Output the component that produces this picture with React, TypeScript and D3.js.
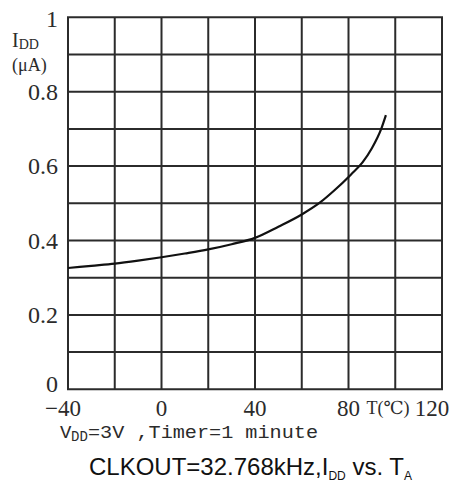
import React, { useEffect, useRef } from "react";
import * as d3 from "d3";

// readings
const temps = [-40, -30, -20, -10, 0, 10, 20, 30, 40, 50, 60, 68, 74, 81, 86, 90, 94, 96];
const idd = [0.326, 0.332, 0.338, 0.346, 0.355, 0.365, 0.376, 0.39, 0.407, 0.437, 0.47, 0.503, 0.535, 0.577, 0.61, 0.648, 0.7, 0.737];

const xGrid = [-40, -20, 0, 20, 40, 60, 80, 100, 120];
const yGrid = [0, 0.1, 0.2, 0.3, 0.4, 0.5, 0.6, 0.7, 0.8, 0.9, 1];
const xTicks = [-40, 0, 40, 80, 120];
const yTicks = [0, 0.2, 0.4, 0.6, 0.8, 1];

const INK = "#2b2b2b";
const SERIF = "'Liberation Serif', 'DejaVu Serif', serif";
const MONO = "'Liberation Mono', 'DejaVu Sans Mono', monospace";
const SANS = "'Liberation Sans', Arial, sans-serif";

const App = () => {
  const ref = useRef(null);

  useEffect(() => {
    const svg = d3.select(ref.current);
    svg.html("");

    const x = d3.scaleLinear().domain([-40, 120]).range([68, 442]);
    const y = d3.scaleLinear().domain([0, 1]).range([389.3, 17.3]);

    const grid = svg.append("g").attr("stroke", INK).attr("stroke-width", 2);
    grid
      .selectAll("line.v")
      .data(xGrid)
      .enter()
      .append("line")
      .attr("x1", d => x(d))
      .attr("x2", d => x(d))
      .attr("y1", y(0))
      .attr("y2", y(1));
    grid
      .selectAll("line.h")
      .data(yGrid)
      .enter()
      .append("line")
      .attr("x1", x(-40) - 1)
      .attr("x2", x(120) + 1)
      .attr("y1", d => y(d))
      .attr("y2", d => y(d));

    // curve
    const pts = temps.map((t, i) => [t, idd[i]]);
    const line = d3
      .line()
      .x(d => x(d[0]))
      .y(d => y(d[1]))
      .curve(d3.curveMonotoneX);
    svg
      .append("path")
      .attr("d", line(pts))
      .attr("fill", "none")
      .attr("stroke", "#111")
      .attr("stroke-width", 2.2);

    // y tick labels
    svg
      .append("g")
      .selectAll("text")
      .data(yTicks)
      .enter()
      .append("text")
      .attr("x", 58)
      .attr("y", d => y(d) + (d === 1 ? 10 : d === 0 ? 3 : 8))
      .attr("text-anchor", "end")
      .attr("font-family", SERIF)
      .attr("font-size", 24)
      .attr("fill", INK)
      .text(d => (d === 0 || d === 1 ? String(d) : d.toFixed(1)));

    // x tick labels
    svg
      .append("g")
      .selectAll("text")
      .data(xTicks)
      .enter()
      .append("text")
      .attr("x", d => (d === -40 ? x(d) - 5 : d === 120 ? x(d) - 10 : x(d)))
      .attr("y", 416)
      .attr("text-anchor", "middle")
      .attr("font-family", SERIF)
      .attr("font-size", 23)
      .attr("fill", INK)
      .text(d => (d < 0 ? "\u2212" + Math.abs(d) : String(d)));

    svg
      .append("text")
      .attr("x", 388)
      .attr("y", 414)
      .attr("text-anchor", "middle")
      .attr("font-family", SERIF)
      .attr("font-size", 18)
      .attr("fill", INK)
      .text("T(\u2103)");

    // y axis name
    const yl = svg
      .append("text")
      .attr("x", 12)
      .attr("y", 47)
      .attr("font-family", SERIF)
      .attr("font-size", 20)
      .attr("fill", INK);
    yl.append("tspan").text("I");
    yl.append("tspan").attr("font-size", 14).attr("dy", 2).text("DD");
    svg
      .append("text")
      .attr("x", 12)
      .attr("y", 71)
      .attr("font-family", SERIF)
      .attr("font-size", 18)
      .attr("fill", INK)
      .text("(\u03bcA)");

    // condition line
    svg
      .append("text")
      .attr("x", 60)
      .attr("y", 438)
      .attr("font-family", MONO)
      .attr("font-size", 19)
      .attr("fill", INK)
      .text("V");
    svg
      .append("text")
      .attr("x", 71)
      .attr("y", 441)
      .attr("font-family", MONO)
      .attr("font-size", 14)
      .attr("fill", INK)
      .text("DD");
    svg
      .append("text")
      .attr("x", 88)
      .attr("y", 438)
      .attr("font-family", MONO)
      .attr("font-size", 19)
      .attr("fill", INK)
      .attr("textLength", 230)
      .attr("lengthAdjust", "spacingAndGlyphs")
      .text("=3V ,Timer=1 minute");

    // caption
    const cap = svg
      .append("text")
      .attr("x", 89)
      .attr("y", 475)
      .attr("font-family", SANS)
      .attr("font-size", 24)
      .attr("fill", "#111");
    cap.append("tspan").text("CLKOUT=32.768kHz,I");
    cap.append("tspan").attr("font-size", 12).attr("dy", 5).text("DD");
    cap.append("tspan").attr("dy", -5).text(" vs. T");
    cap.append("tspan").attr("font-size", 12).attr("dy", 5).text("A");
  }, []);

  return (
    <svg
      ref={ref}
      width={459}
      height={484}
      style={{ position: "absolute", left: 0, top: 0, background: "#fff" }}
    />
  );
};

export default App;
